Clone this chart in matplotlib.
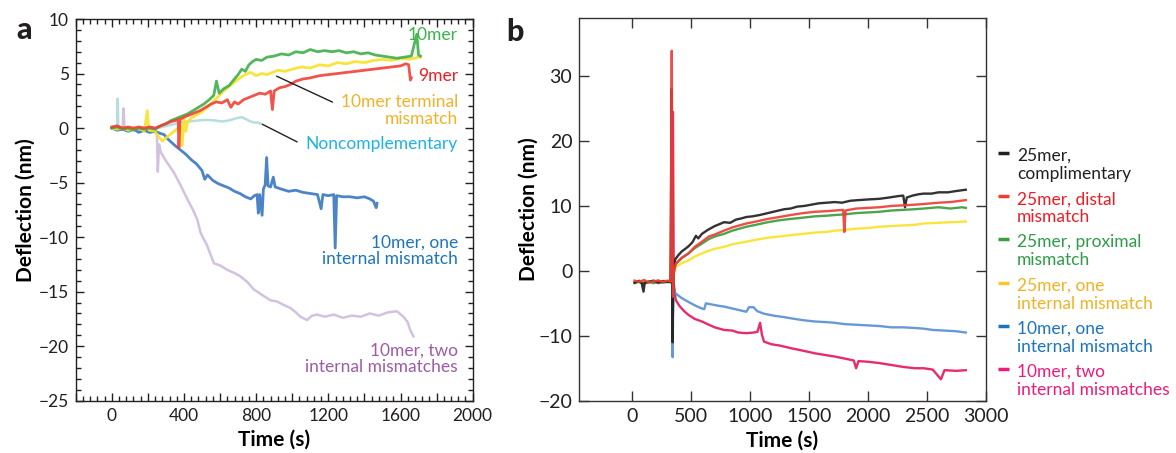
import matplotlib
matplotlib.use("Agg")
import matplotlib.pyplot as plt
from matplotlib import font_manager
from matplotlib.ticker import MultipleLocator, FuncFormatter

# ---------------- data: panel a (time s, deflection nm) ----------------
A_GREEN = [(0,0.0),(30,0.1),(60,-0.1),(90,0.0),(120,-0.2),(150,0.0),(180,-0.1),(210,0.0),(240,-0.1),(270,0.2),
           (300,0.4),(330,0.7),(360,0.9),(390,1.1),(420,1.3),(450,1.6),(480,1.9),(510,2.2),(540,2.6),(565,3.0),
           (580,4.3),(595,3.2),(620,3.6),(650,3.9),(680,4.5),(700,4.9),(720,5.4),(740,5.2),(760,5.8),(780,6.1),
           (800,6.3),(830,6.2),(860,6.5),(900,6.6),(940,6.8),(980,6.7),(1020,7.0),(1060,6.9),(1100,7.2),(1140,7.0),
           (1180,7.1),(1220,7.0),(1260,7.1),(1300,6.9),(1340,7.0),(1380,6.8),(1420,6.9),(1460,6.7),(1500,6.6),
           (1540,6.5),(1580,6.4),(1620,6.5),(1660,6.6),(1690,8.6),(1700,6.7),(1710,6.6)]
A_YELLOW = [(0,0.0),(30,-0.1),(60,0.0),(90,-0.2),(120,-0.1),(150,0.0),(180,-0.3),(197,1.6),(205,-0.2),(240,-0.3),
            (260,-0.8),(280,-1.2),(300,-0.9),(330,-0.5),(360,-0.1),(380,0.2),(390,-1.6),(400,0.9),(410,-0.3),
            (420,0.6),(440,0.9),(470,1.2),(500,1.5),(530,1.9),(560,2.4),(590,2.9),(620,3.4),(650,3.8),(680,4.2),
            (710,4.6),(740,4.9),(770,5.1),(800,4.8),(830,5.0),(860,4.9),(890,5.1),(920,5.3),(960,5.2),(1000,5.4),
            (1050,5.6),(1100,5.5),(1150,5.8),(1200,5.7),(1250,6.0),(1300,5.9),(1350,6.1),(1400,6.0),(1450,6.2),
            (1500,6.3),(1550,6.2),(1600,6.4),(1650,6.3),(1700,6.5),(1710,6.5)]
A_RED = [(0,0.1),(30,0.2),(60,0.0),(90,0.1),(120,0.0),(150,0.1),(180,0.0),(210,0.1),(240,0.0),(270,0.2),
         (300,0.4),(330,0.6),(355,0.7),(368,0.8),(372,-1.8),(378,0.8),(400,1.0),(430,1.2),(460,1.4),(490,1.6),
         (520,1.9),(550,2.2),(580,2.4),(610,2.3),(640,2.6),(660,1.9),(680,2.4),(700,2.2),(730,2.6),(760,2.8),
         (790,3.0),(820,3.2),(850,3.1),(880,3.4),(890,1.7),(900,3.4),(930,3.7),(960,3.8),(990,4.0),(1020,4.3),
         (1060,4.5),(1100,4.6),(1150,4.8),(1200,4.9),(1250,5.0),(1300,5.1),(1350,5.2),(1400,5.3),(1450,5.4),
         (1500,5.5),(1550,5.6),(1600,5.7),(1630,5.9),(1645,5.8),(1655,4.4),(1660,4.6)]
A_CYAN = [(0,0.0),(30,0.1),(33,2.7),(36,0.0),(80,-0.1),(130,0.0),(180,-0.2),(230,-0.1),(280,0.1),(330,0.3),
          (380,0.5),(430,0.6),(480,0.7),(530,0.75),(570,0.7),(610,0.6),(650,0.7),(690,0.9),(720,1.0),(745,0.8),
          (770,0.6),(790,0.5),(810,0.5),(825,0.4)]
A_BLUE = [(0,0.0),(30,-0.2),(60,-0.1),(90,-0.3),(120,-0.1),(150,-0.4),(180,-0.2),(210,-0.4),(240,-0.3),(270,-0.5),
          (290,-0.6),(310,-1.0),(330,-1.3),(350,-1.6),(380,-2.0),(410,-2.4),(440,-2.9),(470,-3.3),(500,-3.9),
          (515,-4.7),(530,-4.3),(560,-4.8),(590,-5.1),(620,-5.3),(650,-5.5),(680,-5.8),(710,-6.0),(740,-6.3),
          (770,-6.5),(790,-6.2),(805,-6.1),(812,-7.8),(820,-6.1),(833,-8.0),(840,-5.6),(850,-5.2),(858,-2.7),
          (866,-5.3),(880,-5.4),(895,-4.5),(905,-5.4),(940,-5.6),(980,-5.8),(1020,-5.7),(1060,-5.9),(1100,-6.0),
          (1140,-6.1),(1160,-7.4),(1170,-6.1),(1200,-6.2),(1230,-6.1),(1238,-11.0),(1246,-6.2),(1280,-6.3),
          (1320,-6.3),(1360,-6.4),(1400,-6.3),(1430,-6.5),(1450,-6.7),(1465,-7.3),(1470,-6.9)]
A_PURPLE = [(0,0.0),(40,0.1),(60,-0.1),(65,1.8),(70,0.0),(100,-0.2),(140,0.0),(180,-0.3),(220,-0.2),(250,-0.5),
            (255,-4.0),(262,-1.5),(271,-2.2),(300,-3.0),(345,-4.1),(380,-5.2),(418,-6.5),(450,-7.5),(474,-8.4),
            (492,-9.6),(510,-10.2),(529,-10.8),(566,-12.4),(600,-12.6),(640,-13.0),(680,-13.3),(713,-13.6),
            (750,-14.1),(787,-14.8),(842,-15.4),(880,-15.8),(916,-15.9),(950,-16.2),(990,-16.5),(1020,-16.9),
            (1045,-17.3),(1082,-17.6),(1110,-17.2),(1137,-17.1),(1180,-17.3),(1230,-17.1),(1280,-17.4),
            (1330,-17.2),(1380,-17.3),(1430,-17.0),(1480,-17.2),(1530,-16.9),(1580,-16.8),(1616,-17.3),
            (1640,-17.8),(1653,-18.5),(1672,-19.1)]

A_LABELS = ["10mer", "9mer", "10mer terminal\nmismatch", "Noncomplementary",
            "10mer, one\ninternal mismatch", "10mer, two\ninternal mismatches"]

# ---------------- data: panel b ----------------
B_BLACK = [(20,-1.8),(50,-1.6),(80,-1.9),(95,-3.2),(105,-1.8),(140,-1.7),(180,-1.5),(220,-1.8),(260,-1.6),(300,-1.7),
           (325,-1.6),(333,28.0),(338,6.0),(342,-11.0),(348,0.5),(365,1.8),(390,2.4),(420,3.0),(450,3.4),(478,3.8),
           (510,4.4),(540,5.4),(560,5.0),(591,5.7),(640,6.3),(700,6.9),(740,7.2),(779,7.5),(830,7.4),(880,7.9),
           (930,8.1),(968,8.3),(1020,8.4),(1080,8.6),(1150,8.9),(1220,9.2),(1290,9.5),(1344,9.6),(1400,9.9),
           (1460,10.0),(1520,10.2),(1580,10.4),(1650,10.5),(1720,10.6),(1780,10.5),(1850,10.8),(1920,10.9),
           (2000,11.0),(2097,11.1),(2180,11.3),(2250,11.5),(2300,11.6),(2315,9.8),(2330,11.3),(2380,11.6),
           (2430,11.8),(2473,11.9),(2540,11.9),(2600,12.1),(2680,12.1),(2750,12.3),(2831,12.5)]
B_RED = [(20,-1.5),(60,-1.7),(100,-1.4),(140,-1.8),(180,-1.6),(220,-1.5),(260,-1.7),(300,-1.5),(325,-1.6),
         (335,33.9),(340,8.0),(345,-4.0),(350,-0.5),(369,1.1),(420,2.0),(478,2.7),(530,3.7),(591,4.5),(650,5.3),
         (700,5.6),(779,6.2),(850,6.7),(968,7.3),(1050,7.6),(1150,8.0),(1250,8.3),(1344,8.6),(1450,8.9),
         (1550,9.1),(1650,9.2),(1720,9.3),(1790,9.4),(1800,6.0),(1810,9.3),(1900,9.6),(2000,9.7),(2097,9.8),
         (2200,10.0),(2300,10.1),(2400,10.2),(2473,10.3),(2600,10.5),(2700,10.6),(2831,10.9)]
B_GREEN = [(20,-1.9),(60,-1.6),(100,-2.0),(140,-1.7),(180,-1.9),(220,-1.6),(260,-1.8),(300,-1.7),(327,-1.8),
           (336,15.0),(341,-10.2),(348,-2.0),(355,0.2),(369,1.1),(420,2.0),(478,2.7),(530,3.5),(591,4.2),
           (650,4.9),(700,5.3),(779,5.7),(850,6.2),(968,6.8),(1050,7.1),(1150,7.5),(1250,7.8),(1344,8.0),
           (1450,8.2),(1550,8.4),(1650,8.5),(1720,8.6),(1800,8.7),(1900,8.9),(2000,9.0),(2097,9.1),(2200,9.3),
           (2300,9.4),(2400,9.5),(2473,9.6),(2600,9.8),(2700,9.6),(2800,9.8),(2831,9.7)]
B_YELLOW = [(20,-1.6),(60,-1.8),(100,-1.5),(140,-1.7),(180,-1.6),(220,-1.8),(260,-1.5),(300,-1.7),(328,-1.6),
            (336,6.0),(341,-3.0),(350,-0.5),(369,0.6),(420,1.2),(478,1.6),(530,2.2),(591,2.7),(650,3.1),
            (700,3.4),(779,3.7),(850,4.1),(968,4.5),(1050,4.8),(1150,5.1),(1250,5.3),(1344,5.5),(1450,5.7),
            (1550,5.9),(1650,6.0),(1720,6.2),(1800,6.3),(1900,6.5),(2000,6.6),(2097,6.8),(2200,6.9),(2300,7.0),
            (2400,7.1),(2473,7.3),(2600,7.4),(2700,7.5),(2831,7.6)]
B_BLUE = [(20,-1.7),(60,-1.5),(100,-1.8),(140,-1.6),(180,-1.7),(220,-1.5),(260,-1.8),(300,-1.6),(328,-1.7),
          (337,3.0),(342,-13.3),(348,-3.0),(369,-3.5),(420,-4.2),(478,-4.8),(540,-5.4),(591,-5.8),(610,-5.9),
          (625,-5.0),(680,-5.2),(740,-5.4),(779,-5.5),(850,-5.8),(920,-6.1),(968,-6.3),(990,-5.6),(1030,-5.6),
          (1060,-6.2),(1118,-6.6),(1200,-6.9),(1280,-7.1),(1344,-7.3),(1450,-7.6),(1550,-7.8),(1650,-7.9),
          (1720,-8.0),(1800,-8.2),(1900,-8.3),(2000,-8.4),(2097,-8.5),(2200,-8.7),(2300,-8.7),(2400,-8.8),
          (2473,-8.9),(2550,-9.1),(2650,-9.2),(2750,-9.3),(2831,-9.5)]
B_PINK = [(20,-1.8),(60,-1.6),(100,-1.9),(140,-1.7),(180,-1.6),(220,-1.9),(260,-1.7),(300,-1.6),(330,-1.8),
          (345,24.5),(352,-2.0),(369,-4.5),(400,-5.4),(440,-6.2),(478,-6.8),(530,-7.4),(591,-7.8),(650,-8.3),
          (700,-8.7),(779,-9.1),(850,-9.2),(900,-9.5),(968,-9.6),(1030,-9.5),(1062,-9.4),(1085,-8.0),(1100,-9.8),
          (1118,-10.9),(1180,-11.3),(1250,-11.5),(1344,-11.9),(1450,-12.3),(1550,-12.7),(1650,-13.0),(1720,-13.2),
          (1800,-13.5),(1880,-13.8),(1900,-15.0),(1920,-13.9),(2000,-14.0),(2097,-14.2),(2200,-14.5),(2300,-14.8),
          (2400,-15.0),(2473,-15.0),(2550,-15.2),(2620,-16.7),(2650,-15.3),(2750,-15.4),(2831,-15.3)]

B_LABELS = ["25mer,\ncomplimentary", "25mer, distal\nmismatch", "25mer, proximal\nmismatch",
            "25mer, one\ninternal mismatch", "10mer, one\ninternal mismatch", "10mer, two\ninternal mismatches"]

# ---------------- fonts ----------------
names = set(font_manager.get_font_names())
FONT = "Lato" if "Lato" in names else "DejaVu Sans"
plt.rcParams["font.family"] = [FONT, "DejaVu Sans"]
plt.rcParams["axes.unicode_minus"] = True

W, H = 1176, 453
fig = plt.figure(figsize=(W / 100, H / 100), dpi=100)

def rect(l, r, t, b):
    return [l / W, 1 - b / H, (r - l) / W, (b - t) / H]

axa = fig.add_axes(rect(75.7, 472.7, 19.0, 400.7))
axb = fig.add_axes(rect(579.3, 985.7, 17.7, 400.7))

def xy(pairs):
    return [p[0] for p in pairs], [p[1] for p in pairs]

# ---------------- panel a ----------------
a_series = [
    (A_PURPLE, "#c7b3d8", 1.8, 0.8),
    (A_CYAN, "#a6d5d9", 1.8, 0.8),
    (A_BLUE, "#2d6fbd", 2.0, 0.85),
    (A_YELLOW, "#f7e22a", 2.0, 0.9),
    (A_GREEN, "#3fae49", 2.0, 0.9),
    (A_RED, "#ef4136", 2.0, 0.9),
]
for pairs, c, lw, al in a_series:
    t, y = xy(pairs)
    axa.plot(t, y, color=c, lw=lw, alpha=al, solid_joinstyle="round")

axa.set_xlim(-200, 2000)
axa.set_ylim(-25, 10)
axa.xaxis.set_major_locator(MultipleLocator(200))
axa.xaxis.set_minor_locator(MultipleLocator(40))
axa.xaxis.set_major_formatter(FuncFormatter(lambda v, p: f"{int(round(v))}" if round(v) % 400 == 0 else ""))
axa.yaxis.set_major_locator(MultipleLocator(5))
axa.yaxis.set_minor_locator(MultipleLocator(1))
axa.tick_params(which="both", direction="in", top=True, right=True, width=1.0, color="#231f20")
axa.tick_params(which="major", length=6, labelsize=12.5, pad=5, labelcolor="#231f20")
axa.tick_params(which="minor", length=3.5)
for s in axa.spines.values():
    s.set_linewidth(1.0)
    s.set_color("#231f20")
axa.set_xlabel("Time (s)", fontsize=15, fontweight="bold", labelpad=4)
axa.set_ylabel("Deflection (nm)", fontsize=15, fontweight="bold", labelpad=2)

def fy(py, ax_t=19.0, ax_b=400.7):
    return (ax_b - py) / (ax_b - ax_t)

xr = (458 - 75.7) / 397.0
a_text = [
    (A_LABELS[0], "#39b54a", 35),
    (A_LABELS[1], "#ed1c24", 76),
    (A_LABELS[2], "#f0b22a", 110.5),
    (A_LABELS[3], "#1fb2e8", 144),
    (A_LABELS[4], "#1c75bc", 251),
    (A_LABELS[5], "#9e5ba6", 358.5),
]
for txt, c, py in a_text:
    axa.text(xr, fy(py), txt, transform=axa.transAxes, ha="right", va="center",
             multialignment="right", color=c, fontsize=12.5, linespacing=1.05)

axa.annotate("", xy=(913, 4.76), xytext=(1223, 2.38),
             arrowprops=dict(arrowstyle="-", color="#231f20", lw=1.0, shrinkA=0, shrinkB=0))
axa.annotate("", xy=(834, 0.35), xytext=(1027, -1.27),
             arrowprops=dict(arrowstyle="-", color="#231f20", lw=1.0, shrinkA=0, shrinkB=0))

# ---------------- panel b ----------------
b_series = [
    (B_PINK, "#e5195f"),
    (B_BLUE, "#5b90d4"),
    (B_YELLOW, "#f8e22c"),
    (B_GREEN, "#3b9e3f"),
    (B_BLACK, "#231f20"),
    (B_RED, "#ef3e36"),
]
for pairs, c in b_series:
    t, y = xy(pairs)
    axb.plot(t, y, color=c, lw=1.7, alpha=0.92, solid_joinstyle="round")

axb.set_xlim(-450, 3000)
axb.set_ylim(-20, 39)
axb.xaxis.set_major_locator(MultipleLocator(500))
axb.yaxis.set_major_locator(MultipleLocator(10))
axb.tick_params(which="major", direction="in", top=True, right=True, length=7, width=1.0,
                color="#333333", labelsize=14, pad=5, labelcolor="#231f20")
for s in axb.spines.values():
    s.set_linewidth(1.0)
    s.set_color("#333333")
axb.set_xlabel("Time (s)", fontsize=15, fontweight="bold", labelpad=4)
axb.set_ylabel("Deflection (nm)", fontsize=15, fontweight="bold", labelpad=0)

# legend (manual, colored text)
leg_order = [
    (B_LABELS[0], "#231f20", "#231f20"),
    (B_LABELS[1], "#ef3e36", "#ed1c24"),
    (B_LABELS[2], "#3b9e3f", "#2e9b47"),
    (B_LABELS[3], "#f8c82c", "#f0b323"),
    (B_LABELS[4], "#1c75bc", "#1c75bc"),
    (B_LABELS[5], "#ec1c7c", "#ec1c7c"),
]
bw, bh = 406.4, 383.0
def bx(px):
    return (px - 579.3) / bw
def by(py):
    return (400.7 - py) / bh
for i, (lab, lc, tc) in enumerate(leg_order):
    py0 = 153 + i * 43.2
    axb.plot([bx(998), bx(1009)], [by(py0), by(py0)], transform=axb.transAxes,
             color=lc, lw=2.5, clip_on=False, solid_capstyle="butt")
    for j, line in enumerate(lab.split("\n")):
        axb.text(bx(1017), by(py0 + 3 + j * 18), line, transform=axb.transAxes,
                 ha="left", va="center", color=tc, fontsize=12.5, clip_on=False)

# panel letters
fig.text(24 / W, 1 - 30 / H, "a", fontsize=22, fontweight="black", ha="center", va="center", color="#231f20")
fig.text(515 / W, 1 - 32 / H, "b", fontsize=22, fontweight="black", ha="center", va="center", color="#231f20")

fig.savefig("out.png", dpi=100)
